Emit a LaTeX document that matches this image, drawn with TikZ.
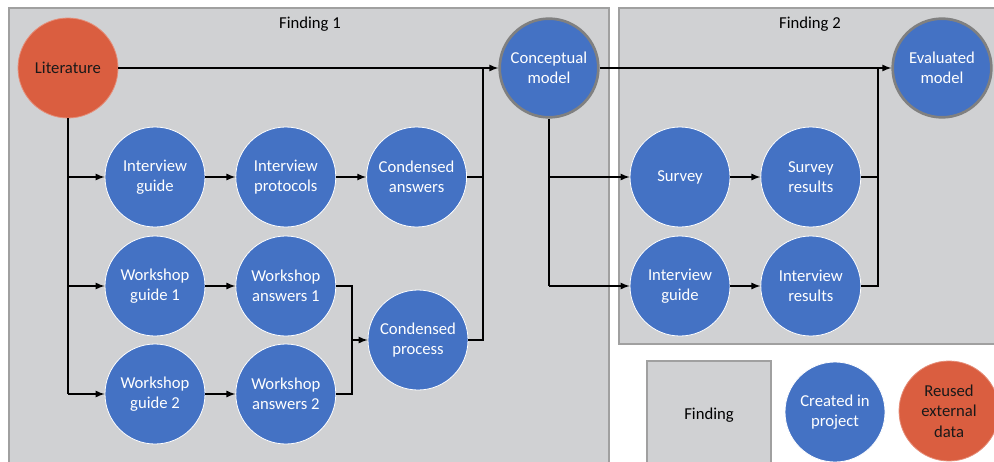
\documentclass[tikz,border=0pt]{standalone}
\usepackage{fontspec}
\setmainfont{Carlito}
\usetikzlibrary{positioning,arrows}

\definecolor{objblue}{RGB}{68,114,196}
\definecolor{extred}{RGB}{218,94,64}
\definecolor{boxgray}{RGB}{208,209,211}
\definecolor{edgegray}{RGB}{160,160,160}

\begin{document}
\begin{tikzpicture}[
        x=0.75pt,y=-0.75pt,
        font=\fontsize{12.5}{15.2}\selectfont,
        item/.style={
          draw=white,
          circle,
          fill=objblue,
          text=white,
          line width=0.6pt,
          minimum size=75pt,
          inner sep=1pt,
          align=center
        },
        ext/.style={
          item,
          fill=extred,
          draw=extred!70!white,
          text=black!90
        },
        result/.style={
          item,
          draw=gray,
          line width=2pt,
          minimum size=74pt
        },
        finding/.style={
          draw=edgegray,
          fill=boxgray,
          line width=1.5pt
        },
        wire/.style={
          line width=1.3pt
        },
        flow/.style={
          wire,
          -latex
        },
        node distance=22.5pt
        ]
        \useasboundingbox (0,0) rectangle (994,461);
        \clip (0,0) rectangle (994,461);

        % findings
        \draw[finding] (9,8) rectangle (609,475);
        \draw[finding] (619,8) rectangle (1005,344);
        \node (f1lab) at (310,24) {Finding 1};
        \node (f2lab) at (810,24) {Finding 2};

        % finding 1
        \node[ext] at (68,68) (lit) {Literature};
        \node[result] at (549,68) (cm) {Conceptual\\model};
        \node[item] at (155,177) (ig) {Interview\\guide};
        \node[item,right=of ig] (ipro) {Interview\\protocols};
        \node[item,right=of ipro] (cans) {Condensed\\answers};
        \node[item] at (155,286) (wg1) {Workshop\\guide 1};
        \node[item,right=of wg1] (wa1) {Workshop\\answers 1};
        \node[item] at (155,394) (wg2) {Workshop\\guide 2};
        \node[item,right=of wg2] (wa2) {Workshop\\answers 2};
        \node[item] at (418,340) (cproc) {Condensed\\process};

        % finding 2
        \node[result] at (942,68) (eval) {Evaluated\\model};
        \node[item] at (680,177) (survey) {Survey};
        \node[item,right=of survey] (sres) {Survey\\results};
        \node[item] at (680,286) (ig2) {Interview\\guide};
        \node[item,right=of ig2] (ires) {Interview\\results};

        % legend
        \node[finding,minimum width=93pt,minimum height=81pt] at (709,415) (legbox) {Finding};
        \node[item] at (835,412) (legown) {Created in\\project};
        \node[ext] at (949,411) (legext) {Reused\\external\\data};

        % joints
        \coordinate (j1) at (483,68);
        \coordinate (j2) at (352,340);
        \coordinate (j3) at (878,68);

        \draw[flow] (lit) -- (cm);
        \draw[wire] (lit.south) -- (lit |- wg2);
        \foreach \t in {ig,wg1,wg2}
          \draw[flow] (lit |- \t) -- (\t);
        \draw[flow] (ig) -- (ipro);
        \draw[flow] (ipro) -- (cans);
        \draw[flow] (wg1) -- (wa1);
        \draw[flow] (wg2) -- (wa2);
        \draw[wire] (wa1.east) -| (j2);
        \draw[wire] (wa2.east) -| (j2);
        \draw[flow] (j2) -- (cproc);
        \draw[wire] (cans.east) -| (j1);
        \draw[wire] (cproc.east) -| (j1);

        \draw[flow] (cm) -- (eval);
        \draw[wire] (cm.south) -- (cm |- ig2);
        \draw[flow] (cm |- survey) -- (survey);
        \draw[flow] (cm |- ig2) -- (ig2);
        \draw[flow] (survey) -- (sres);
        \draw[flow] (ig2) -- (ires);
        \draw[wire] (sres.east) -| (j3);
        \draw[wire] (ires.east) -| (j3);
\end{tikzpicture}
\end{document}
